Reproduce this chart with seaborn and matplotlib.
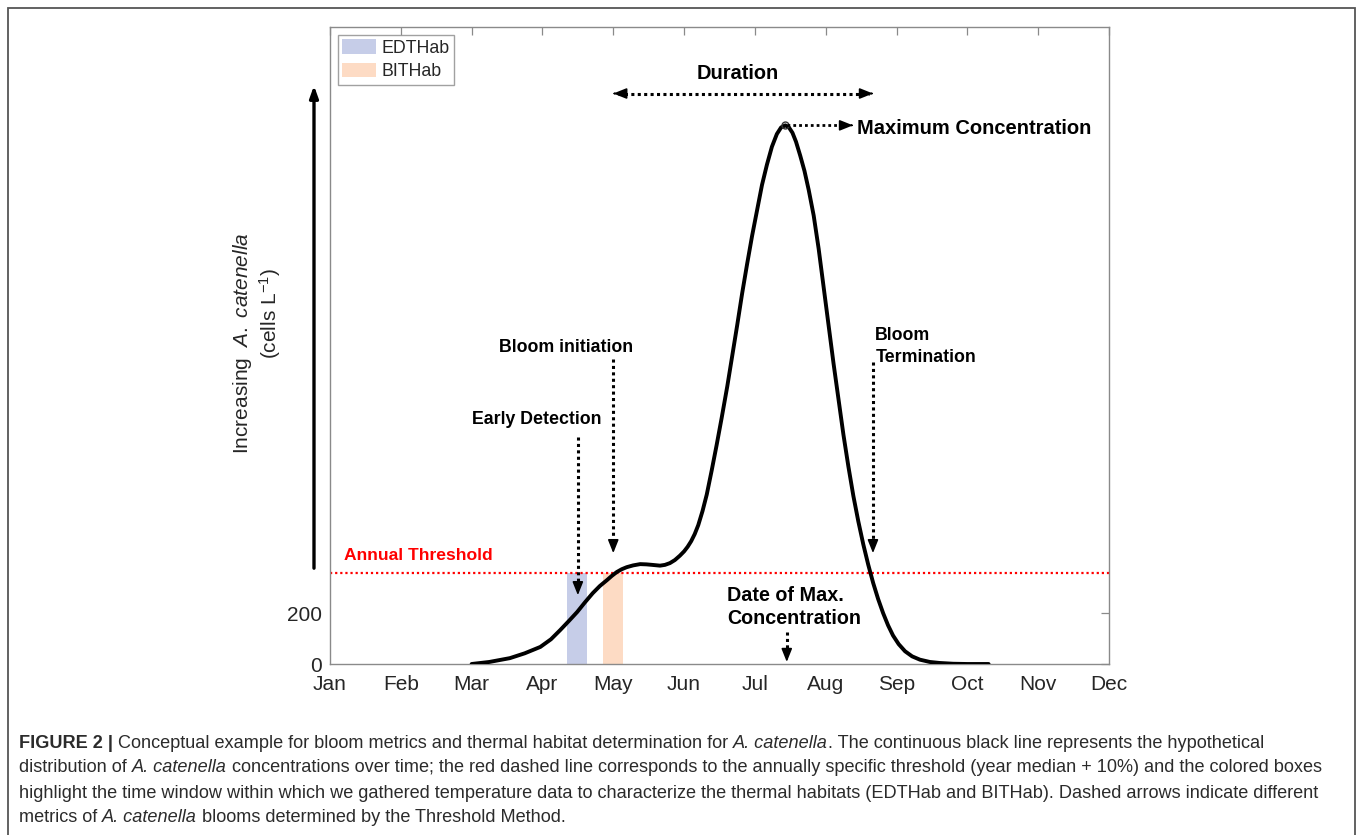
import matplotlib
matplotlib.use("Agg")
import matplotlib.pyplot as plt
import seaborn as sns
import pandas as pd
from matplotlib.patches import Patch, Rectangle
from matplotlib import font_manager

# ---- data -------------------------------------------------------------
month_labels = ["Jan", "Feb", "Mar", "Apr", "May", "Jun",
                "Jul", "Aug", "Sep", "Oct", "Nov", "Dec"]
month_ticks = [1, 2, 3, 4, 5, 6, 7, 8, 9, 10, 11, 12]

bloom_month = [3.00, 3.25, 3.54, 3.75, 3.97, 4.12, 4.25, 4.37, 4.49, 4.60,
               4.71, 4.81, 4.91, 4.98, 5.05, 5.12, 5.19, 5.28, 5.38, 5.47,
               5.55, 5.66, 5.73, 5.80, 5.87, 5.94, 6.00, 6.05, 6.10, 6.15,
               6.20, 6.26, 6.32, 6.39, 6.46, 6.53, 6.61, 6.68, 6.75, 6.82,
               6.89, 6.96, 7.03, 7.10, 7.17, 7.24, 7.31, 7.37, 7.43, 7.48,
               7.53, 7.58, 7.64, 7.70, 7.76, 7.83, 7.90, 7.97, 8.04, 8.11,
               8.18, 8.25, 8.32, 8.39, 8.46, 8.53, 8.60, 8.67, 8.74, 8.81,
               8.88, 8.95, 9.03, 9.12, 9.22, 9.33, 9.47, 9.61, 9.80, 10.00,
               10.30]
bloom_cells = [0, 8, 23, 42, 67, 97, 133, 168, 204, 242,
               278, 306, 329, 346, 361, 372, 380, 387, 392, 391,
               389, 386, 389, 396, 408, 425, 442, 460, 482, 510,
               545, 600, 665, 760, 860, 965, 1090, 1210, 1330, 1455,
               1570, 1680, 1780, 1880, 1960, 2030, 2080, 2106, 2114, 2106,
               2085, 2050, 1995, 1935, 1860, 1760, 1630, 1480, 1330, 1180,
               1040, 900, 775, 660, 560, 470, 390, 318, 255, 200,
               152, 112, 78, 50, 30, 17, 8, 4, 1, 0,
               0]

y_ticks = [0, 200]
y_max = 2500
threshold = 357
peak_month, peak_cells = 7.43, 2114
edthab_window = (4.35, 4.63)
bithab_window = (4.86, 5.14)
early_detection_month = 4.50
initiation_month = 5.00
termination_month = 8.667

EDT_COLOR = "#c6cde8"
BIT_COLOR = "#fddbc4"

# ---- style ------------------------------------------------------------
sns.set_theme(style="white")
plt.rcParams["font.family"] = ["Liberation Sans", "DejaVu Sans"]
plt.rcParams["mathtext.fontset"] = "custom"
plt.rcParams["mathtext.rm"] = "Liberation Sans"
plt.rcParams["mathtext.it"] = "Liberation Sans:italic"
plt.rcParams["mathtext.bf"] = "Liberation Sans:bold"

W, H = 1360, 835
fig = plt.figure(figsize=(W / 100, H / 100), dpi=100)
fig.patch.set_facecolor("white")

ax_left, ax_right, ax_top, ax_bottom = 330, 1109, 27, 664
ax = fig.add_axes([ax_left / W, 1 - ax_bottom / H,
                   (ax_right - ax_left) / W, (ax_bottom - ax_top) / H])

# thermal-habitat windows
ax.fill_between(list(edthab_window), 0, threshold, color=EDT_COLOR, lw=0, zorder=1)
ax.fill_between(list(bithab_window), 0, threshold, color=BIT_COLOR, lw=0, zorder=1)

# annual threshold
ax.axhline(threshold, color="#ff0000", lw=1.6, ls=(0, (1, 1.3)), zorder=2)

# bloom curve
df = pd.DataFrame({"month": bloom_month, "cells": bloom_cells})
sns.lineplot(data=df, x="month", y="cells", ax=ax, color="black",
             linewidth=2.8, sort=False, estimator=None, zorder=4)
ax.plot([peak_month], [peak_cells], marker="o", ms=5, mfc="none",
        mec="#333333", mew=1.0, zorder=5)

ax.set_xlim(1, 12)
ax.set_ylim(0, y_max)
ax.set_xticks(month_ticks)
ax.set_xticklabels(month_labels)
ax.set_yticks(y_ticks)
ax.set_xlabel("")
ax.set_ylabel("")
ax.tick_params(axis="both", direction="in", length=6, width=0.9,
               color="#8a8a8a", labelsize=15, labelcolor="#262626",
               top=True, right=True)
ax.tick_params(axis="x", pad=8)
ax.tick_params(axis="y", pad=6)
for s in ax.spines.values():
    s.set_color("#8a8a8a")
    s.set_linewidth(1.0)

# legend
handles = [Patch(facecolor=EDT_COLOR, edgecolor="none", label="EDTHab"),
           Patch(facecolor=BIT_COLOR, edgecolor="none", label="BITHab")]
leg = ax.legend(handles=handles, loc="upper left", fontsize=12.8,
                frameon=True, fancybox=False, borderaxespad=0.45,
                handlelength=1.9, handleheight=0.85, handletextpad=0.3,
                labelspacing=0.35, borderpad=0.25)
leg.get_frame().set_edgecolor("#8a8a8a")
leg.get_frame().set_linewidth(1.0)
for t in leg.get_texts():
    t.set_color("#262626")


# ---- dotted arrows ----------------------------------------------------
def head(tip, back):
    ax.annotate("", xy=tip, xytext=back,
                arrowprops=dict(arrowstyle="-|>,head_length=0.8,head_width=0.32",
                                color="black", lw=1.2, shrinkA=0, shrinkB=0,
                                mutation_scale=10),
                annotation_clip=False, zorder=6)


def dotted_v(x, y0, y1, lw=2.2):
    ax.plot([x, x], [y0, y1 + 25], color="black", lw=lw,
            ls=(0, (1, 1.1)), dash_capstyle="butt", zorder=6)
    head((x, y1), (x, y1 + 20))


def dotted_h(y, x0, x1, lw=2.2, both=False):
    xa = x0 + 0.06 if both else x0
    ax.plot([xa, x1 - 0.06], [y, y], color="black", lw=lw,
            ls=(0, (1, 1.1)), dash_capstyle="butt", zorder=6)
    head((x1, y), (x1 - 0.02, y))
    if both:
        head((x0, y), (x0 + 0.02, y))


bold = dict(fontweight="bold", color="black")

# duration
ax.text(6.76, 2318, "Duration", ha="center", va="center", fontsize=14.4, **bold)
dotted_h(2239, initiation_month, termination_month, both=True)

# maximum concentration
ax.text(8.44, 2102, "Maximum Concentration", ha="left", va="center", fontsize=14.5, **bold)
dotted_h(peak_cells, peak_month + 0.03, 8.385, lw=2.0)

# bloom initiation
ax.text(4.33, 1243, "Bloom initiation", ha="center", va="center", fontsize=12.8, **bold)
dotted_v(initiation_month, 1196, 435)

# early detection
ax.text(3.92, 961, "Early Detection", ha="center", va="center", fontsize=12.8, **bold)
dotted_v(early_detection_month, 890, 270)

# bloom termination
ax.text(8.70, 1290, "Bloom", ha="left", va="center", fontsize=12.8, **bold)
ax.text(8.70, 1204, "Termination", ha="left", va="center", fontsize=12.8, **bold)
dotted_v(termination_month, 1184, 435)

# date of maximum concentration
ax.text(6.606, 267, "Date of Max.", ha="left", va="center", fontsize=14.2, **bold)
ax.text(6.606, 180, "Concentration", ha="left", va="center", fontsize=14.2, **bold)
dotted_v(peak_month + 0.02, 125, 8)

# threshold label
ax.text(1.198, 424, "Annual Threshold", ha="left", va="center", fontsize=12.6,
        fontweight="bold", color="#ff0000")

# increasing-concentration axis arrow
ax.annotate("", xy=(0.774, 2270), xytext=(0.774, 376),
            arrowprops=dict(arrowstyle="-|>,head_length=0.7,head_width=0.25",
                            color="black", lw=2.4, shrinkA=0, shrinkB=0,
                            mutation_scale=10),
            annotation_clip=False)

fig.text(243 / W, 1 - 343 / H, r"Increasing  $\mathit{A.\ catenella}$",
         rotation=90, ha="center", va="center", fontsize=15, color="#262626")
fig.text(270 / W, 1 - 313 / H, r"(cells L$^{-1}$)",
         rotation=90, ha="center", va="center", fontsize=15, color="#262626")

# ---- outer frame ------------------------------------------------------
fig.add_artist(Rectangle((8 / W, -0.05), (1355 - 8) / W, 1.05 - 8 / H,
                         transform=fig.transFigure, fill=False,
                         edgecolor="#555555", lw=1.3, clip_on=False))

# ---- caption ----------------------------------------------------------
names = {f.name for f in font_manager.fontManager.ttflist}
cap_family = "Liberation Sans Narrow" if "Liberation Sans Narrow" in names else "Liberation Sans"
CAP_COLOR = "#2b2b2b"
caption_lines = [
    [("FIGURE 2 |", "bold"), (" Conceptual example for bloom metrics and thermal habitat determination for ", "normal"),
     ("A. catenella", "italic"), (". The continuous black line represents the hypothetical", "normal")],
    [("distribution of ", "normal"), ("A. catenella", "italic"),
     (" concentrations over time; the red dashed line corresponds to the annually specific threshold (year median + 10%) and the colored boxes", "normal")],
    [("highlight the time window within which we gathered temperature data to characterize the thermal habitats (EDTHab and BITHab). Dashed arrows indicate different", "normal")],
    [("metrics of ", "normal"), ("A. catenella", "italic"), (" blooms determined by the Threshold Method.", "normal")],
]
caption_y = [743, 768, 793, 818]

renderer = fig.canvas.get_renderer()


def run_kw(style):
    kw = dict(family=cap_family, color=CAP_COLOR)
    if style == "bold":
        kw["fontweight"] = "bold"
    elif style == "italic":
        kw["style"] = "italic"
    return kw


def width_px(s, size, style):
    t = fig.text(0, 0, s, fontsize=size, **run_kw(style))
    w = t.get_window_extent(renderer).width
    t.remove()
    return w


def advance(s, size, style):
    # width including leading/trailing spaces
    bar = width_px("|", size, style)
    return width_px("|" + s + "|", size, style) - 2 * bar + (width_px("||", size, style) - 2 * bar)


ref_line = "".join(r[0] for r in caption_lines[1])
base = 10.0
size = base * (1333 - 19) / advance(ref_line, base, "normal")

for line, yy in zip(caption_lines, caption_y):
    x = 19.0
    for txt, style in line:
        fig.text(x / W, 1 - yy / H, txt, fontsize=size, va="center", ha="left", **run_kw(style))
        x += advance(txt, size, style)

fig.savefig("out.png", dpi=100, facecolor="white")
